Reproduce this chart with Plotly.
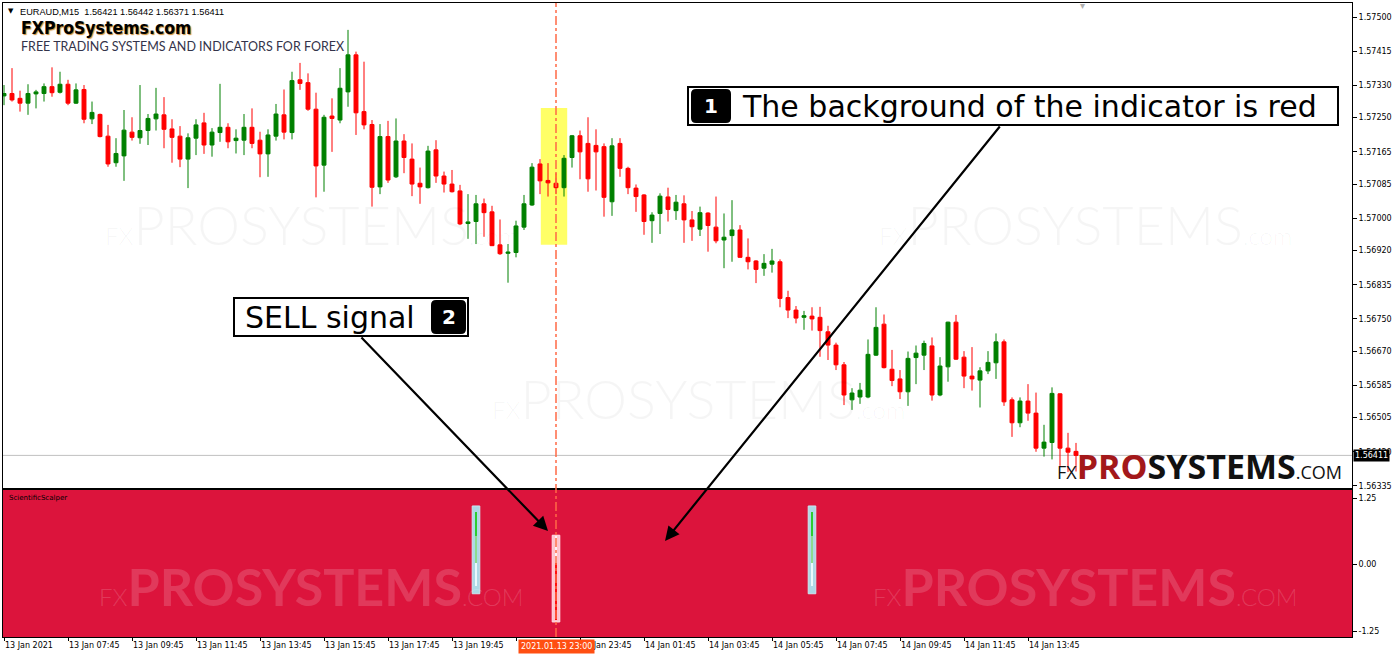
import plotly.graph_objects as go

W, H = 1400, 657

# ---------------- data (EURAUD M15, 13 Jan 05:45 -> 14 Jan 15:15) ----------------
opens = [1.57304, 1.57310, 1.57298, 1.57286, 1.57309, 1.57310, 1.57327, 1.57313, 1.57333, 1.57286,
         1.57320, 1.57247, 1.57258, 1.57204, 1.57138, 1.57155, 1.57214, 1.57200, 1.57218, 1.57247,
         1.57257, 1.57222, 1.57204, 1.57147, 1.57199, 1.57237, 1.57182, 1.57213, 1.57226, 1.57193,
         1.57194, 1.57226, 1.57194, 1.57160, 1.57204, 1.57257, 1.57213, 1.57344, 1.57337, 1.57271,
         1.57132, 1.57254, 1.57244, 1.57314, 1.57406, 1.57265, 1.57233, 1.57078, 1.57203, 1.57103,
         1.57192, 1.57147, 1.57087, 1.57076, 1.57170, 1.57105, 1.57085, 1.57068, 1.56987, 1.56992,
         1.57036, 1.57016, 1.56934, 1.56913, 1.56915, 1.56978, 1.57033, 1.57135, 1.57094, 1.57087,
         1.57076, 1.57151, 1.57205, 1.57186, 1.57181, 1.57178, 1.57041, 1.57186, 1.57124, 1.57075,
         1.57058, 1.56994, 1.57012, 1.57053, 1.57019, 1.57036, 1.56996, 1.56973, 1.57013, 1.56978,
         1.56946, 1.56957, 1.56971, 1.56903, 1.56894, 1.56876, 1.56886, 1.56892, 1.56803, 1.56772,
         1.56754, 1.56757, 1.56754, 1.56718, 1.56685, 1.56636, 1.56549, 1.56556, 1.56556, 1.56660,
         1.56737, 1.56625, 1.56601, 1.56569, 1.56654, 1.56660, 1.56683, 1.56561, 1.56631, 1.56742,
         1.56655, 1.56608, 1.56598, 1.56621, 1.56641, 1.56693, 1.56549, 1.56492, 1.56546, 1.56516,
         1.56429, 1.56443, 1.56564, 1.56429, 1.56421]
highs = [1.57331, 1.57373, 1.57317, 1.57333, 1.57319, 1.57335, 1.57375, 1.57364, 1.57344, 1.57335,
         1.57331, 1.57290, 1.57260, 1.57232, 1.57199, 1.57269, 1.57251, 1.57331, 1.57259, 1.57324,
         1.57301, 1.57246, 1.57229, 1.57211, 1.57246, 1.57262, 1.57224, 1.57334, 1.57236, 1.57221,
         1.57259, 1.57273, 1.57215, 1.57221, 1.57284, 1.57320, 1.57364, 1.57386, 1.57360, 1.57312,
         1.57257, 1.57298, 1.57373, 1.57468, 1.57414, 1.57389, 1.57244, 1.57234, 1.57242, 1.57248,
         1.57209, 1.57186, 1.57126, 1.57180, 1.57194, 1.57116, 1.57120, 1.57083, 1.57060, 1.57058,
         1.57049, 1.57031, 1.56997, 1.56936, 1.56994, 1.57058, 1.57137, 1.57147, 1.57137, 1.57112,
         1.57157, 1.57207, 1.57218, 1.57251, 1.57221, 1.57186, 1.57199, 1.57199, 1.57128, 1.57084,
         1.57060, 1.57015, 1.57062, 1.57076, 1.57058, 1.57057, 1.57018, 1.57029, 1.57015, 1.57054,
         1.57012, 1.57045, 1.56983, 1.56950, 1.56896, 1.56911, 1.56924, 1.56898, 1.56820, 1.56782,
         1.56770, 1.56779, 1.56780, 1.56733, 1.56691, 1.56643, 1.56578, 1.56591, 1.56699, 1.56779,
         1.56761, 1.56673, 1.56623, 1.56669, 1.56684, 1.56696, 1.56704, 1.56655, 1.56743, 1.56760,
         1.56670, 1.56680, 1.56630, 1.56670, 1.56714, 1.56699, 1.56555, 1.56555, 1.56588, 1.56567,
         1.56487, 1.56580, 1.56565, 1.56467, 1.56442]
lows = [1.57281, 1.57290, 1.57265, 1.57257, 1.57273, 1.57290, 1.57302, 1.57310, 1.57281, 1.57284,
        1.57236, 1.57234, 1.57201, 1.57128, 1.57128, 1.57093, 1.57193, 1.57185, 1.57182, 1.57218,
        1.57174, 1.57138, 1.57127, 1.57075, 1.57157, 1.57160, 1.57153, 1.57190, 1.57174, 1.57161,
        1.57157, 1.57174, 1.57102, 1.57103, 1.57193, 1.57196, 1.57196, 1.57319, 1.57267, 1.57052,
        1.57066, 1.57165, 1.57236, 1.57277, 1.57207, 1.57221, 1.57029, 1.57060, 1.57088, 1.57100,
        1.57112, 1.57055, 1.57036, 1.57074, 1.57088, 1.57064, 1.57064, 1.56983, 1.56949, 1.56936,
        1.56954, 1.56931, 1.56909, 1.56840, 1.56903, 1.56971, 1.57031, 1.57060, 1.57054, 1.57060,
        1.57054, 1.57126, 1.57097, 1.57066, 1.57069, 1.57004, 1.57006, 1.57103, 1.57060, 1.57016,
        1.56959, 1.56939, 1.56961, 1.56992, 1.56996, 1.56939, 1.56944, 1.56956, 1.56917, 1.56938,
        1.56876, 1.56892, 1.56902, 1.56873, 1.56839, 1.56857, 1.56865, 1.56779, 1.56752, 1.56739,
        1.56723, 1.56721, 1.56656, 1.56648, 1.56623, 1.56536, 1.56524, 1.56539, 1.56553, 1.56658,
        1.56627, 1.56583, 1.56551, 1.56534, 1.56588, 1.56623, 1.56547, 1.56558, 1.56594, 1.56648,
        1.56578, 1.56572, 1.56530, 1.56613, 1.56601, 1.56534, 1.56457, 1.56481, 1.56497, 1.56420,
        1.56408, 1.56401, 1.56385, 1.56370, 1.56371]
closes = [1.57310, 1.57294, 1.57286, 1.57310, 1.57314, 1.57327, 1.57312, 1.57333, 1.57286, 1.57319,
          1.57246, 1.57263, 1.57203, 1.57135, 1.57161, 1.57219, 1.57201, 1.57218, 1.57248, 1.57259,
          1.57221, 1.57201, 1.57147, 1.57200, 1.57232, 1.57182, 1.57214, 1.57226, 1.57190, 1.57199,
          1.57226, 1.57186, 1.57160, 1.57207, 1.57259, 1.57214, 1.57342, 1.57335, 1.57271, 1.57130,
          1.57251, 1.57248, 1.57323, 1.57406, 1.57262, 1.57232, 1.57077, 1.57203, 1.57095, 1.57192,
          1.57151, 1.57085, 1.57078, 1.57167, 1.57105, 1.57085, 1.57066, 1.56986, 1.56991, 1.57036,
          1.57014, 1.56932, 1.56912, 1.56916, 1.56981, 1.57036, 1.57127, 1.57093, 1.57088, 1.57076,
          1.57149, 1.57205, 1.57165, 1.57098, 1.57165, 1.57052, 1.57180, 1.57124, 1.57076, 1.57054,
          1.56992, 1.57008, 1.57055, 1.57022, 1.57040, 1.56996, 1.56979, 1.57014, 1.56982, 1.56944,
          1.56953, 1.56971, 1.56903, 1.56892, 1.56873, 1.56888, 1.56894, 1.56801, 1.56772, 1.56752,
          1.56758, 1.56750, 1.56721, 1.56685, 1.56636, 1.56561, 1.56566, 1.56573, 1.56662, 1.56729,
          1.56629, 1.56597, 1.56569, 1.56652, 1.56665, 1.56689, 1.56561, 1.56633, 1.56742, 1.56650,
          1.56608, 1.56601, 1.56621, 1.56642, 1.56693, 1.56544, 1.56492, 1.56546, 1.56516, 1.56429,
          1.56444, 1.56565, 1.56429, 1.56419, 1.56411]

price_ticks = [1.57500, 1.57415, 1.57330, 1.57250, 1.57165, 1.57085, 1.57000, 1.56920,
               1.56835, 1.56750, 1.56670, 1.56585, 1.56505, 1.56420, 1.56335]
price_tick_text = ["%.5f" % v for v in price_ticks]

time_tick_idx = [0, 8, 16, 24, 32, 40, 48, 56, 64, 72, 80, 88, 96, 104, 112, 120, 128]
time_tick_text = ["13 Jan 2021", "13 Jan 07:45", "13 Jan 09:45", "13 Jan 11:45", "13 Jan 13:45",
                  "13 Jan 15:45", "13 Jan 17:45", "13 Jan 19:45", "", "13 Jan 23:45",
                  "14 Jan 01:45", "14 Jan 03:45", "14 Jan 05:45", "14 Jan 07:45", "14 Jan 09:45",
                  "14 Jan 11:45", "14 Jan 13:45"]

cursor_bar = 69
cursor_label = "2021.01.13 23:00"
highlight_bars = [67.1, 70.4]
highlight_prices = [1.56934, 1.57274]

ind_ticks = [1.25, 0.0, -1.25]
ind_tick_text = ["1.25", "0.00", "-1.25"]

# ScientificScalper signals (bar index, direction, level ranges)
sig_x = [59, 69, 101]
sig_dir = ["buy", "sell", "buy"]
box_hi = [1.10, 0.55, 1.10]
box_lo = [-0.55, -1.08, -0.55]
core_hi = [0.98, 0.02, 0.98]
core_lo = [0.53, -1.04, 0.53]
mid_hi = [0.53, 0.53, 0.53]
mid_lo = [0.02, 0.02, 0.02]
tail_hi = [0.02, 0.02, 0.02]
tail_lo = [-0.41, 0.02, -0.41]

n = len(opens)
xs = list(range(n))


def px(p):
    return p / W


def py(p):
    return 1 - p / H


fig = go.Figure()

fig.add_trace(go.Candlestick(
    x=xs, open=opens, high=highs, low=lows, close=closes,
    increasing=dict(line=dict(color="#008000", width=1), fillcolor="#008000"),
    decreasing=dict(line=dict(color="#FF0000", width=1), fillcolor="#FF0000"),
    whiskerwidth=0, hoverinfo="skip", showlegend=False, xaxis="x", yaxis="y"))


def seg(hi, lo):
    return [h - l for h, l in zip(hi, lo)]


box_cols = ["#ADD8E6" if d == "buy" else "#FFC4CE" for d in sig_dir]
box_line = ["#CBE7F1" if d == "buy" else "#FFE2E8" for d in sig_dir]
core_cols = ["#2ECC2E" if d == "buy" else "#FF1010" for d in sig_dir]
mid_cols = ["#8EDB8E" if d == "buy" else "#FFF0F2" for d in sig_dir]
tail_cols = ["#EAF8FC" if d == "buy" else "rgba(0,0,0,0)" for d in sig_dir]

fig.add_trace(go.Bar(x=sig_x, y=seg(box_hi, box_lo), base=box_lo, width=0.95,
                     marker=dict(color=box_cols, line=dict(color=box_line, width=1)),
                     xaxis="x2", yaxis="y2", hoverinfo="skip", showlegend=False))
fig.add_trace(go.Bar(x=sig_x, y=seg(mid_hi, mid_lo), base=mid_lo, width=0.28,
                     marker=dict(color=mid_cols, line=dict(width=0)),
                     xaxis="x2", yaxis="y2", hoverinfo="skip", showlegend=False))
fig.add_trace(go.Bar(x=sig_x, y=seg(tail_hi, tail_lo), base=tail_lo, width=0.28,
                     marker=dict(color=tail_cols, line=dict(width=0)),
                     xaxis="x2", yaxis="y2", hoverinfo="skip", showlegend=False))
fig.add_trace(go.Bar(x=sig_x, y=seg(core_hi, core_lo), base=core_lo, width=0.28,
                     marker=dict(color=core_cols, line=dict(width=0)),
                     xaxis="x2", yaxis="y2", hoverinfo="skip", showlegend=False))

xdom = [px(3), px(1352)]
xrange_ = [-0.125, 168.5]
axis_font = dict(family="DejaVu Sans", size=8, color="black")

fig.update_layout(
    template="none",
    width=W, height=H,
    margin=dict(l=0, r=0, t=0, b=0, pad=0),
    paper_bgcolor="white", plot_bgcolor="white",
    barmode="overlay", bargap=0,
    showlegend=False,
    hovermode=False,
    xaxis=dict(domain=xdom, range=xrange_, anchor="y", showticklabels=False, ticks="",
               showgrid=False, zeroline=False, showline=True, mirror=True, linecolor="black",
               linewidth=1, rangeslider=dict(visible=False), automargin=False, fixedrange=True),
    yaxis=dict(domain=[py(488), py(3)], range=[1.56330, 1.575348], anchor="x", side="right",
               tickvals=price_ticks, ticktext=price_tick_text, ticks="outside", ticklen=4,
               tickcolor="black", tickfont=axis_font, showgrid=False, zeroline=False,
               showline=True, mirror=True, linecolor="black", linewidth=1, automargin=False),
    xaxis2=dict(domain=xdom, range=xrange_, anchor="y2", tickvals=time_tick_idx,
                ticktext=time_tick_text, ticks="outside", ticklen=3, tickcolor="black",
                ticklabelposition="outside right", tickfont=axis_font, showgrid=False,
                zeroline=False, showline=True, mirror=True, linecolor="black", linewidth=1,
                automargin=False),
    yaxis2=dict(domain=[py(637), py(490)], range=[-1.3628, 1.4004], anchor="x2", side="right",
                tickvals=ind_ticks, ticktext=ind_tick_text, ticks="outside", ticklen=4,
                tickcolor="black", tickfont=axis_font, showgrid=False, zeroline=False,
                showline=True, mirror=True, linecolor="black", linewidth=1, automargin=False),
)

shapes = []
shapes.append(dict(type="rect", xref="x2 domain", yref="y2 domain", x0=0, x1=1, y0=0, y1=1,
                   fillcolor="#DC143C", line=dict(width=0), layer="below"))
shapes.append(dict(type="rect", xref="x", yref="y", x0=highlight_bars[0], x1=highlight_bars[1],
                   y0=highlight_prices[0], y1=highlight_prices[1], fillcolor="#FFFF66",
                   line=dict(width=0), layer="below"))
shapes.append(dict(type="line", xref="x domain", yref="y", x0=0, x1=1, y0=closes[-1], y1=closes[-1],
                   line=dict(color="#C0C0C0", width=1), layer="below"))
shapes.append(dict(type="line", xref="x", yref="paper", x0=cursor_bar, x1=cursor_bar,
                   y0=py(637), y1=py(3), line=dict(color="rgb(255,105,70)", width=1.5, dash="dashdot"),
                   layer="above"))


def rrect(x0, y0, x1, y1, r):
    return (f"M {px(x0 + r)},{py(y0)} L {px(x1 - r)},{py(y0)} Q {px(x1)},{py(y0)} {px(x1)},{py(y0 + r)} "
            f"L {px(x1)},{py(y1 - r)} Q {px(x1)},{py(y1)} {px(x1 - r)},{py(y1)} "
            f"L {px(x0 + r)},{py(y1)} Q {px(x0)},{py(y1)} {px(x0)},{py(y1 - r)} "
            f"L {px(x0)},{py(y0 + r)} Q {px(x0)},{py(y0)} {px(x0 + r)},{py(y0)} Z")


shapes.append(dict(type="rect", xref="paper", yref="paper", x0=px(688), x1=px(1338), y0=py(125), y1=py(87),
                   fillcolor="white", line=dict(color="black", width=2)))
shapes.append(dict(type="path", xref="paper", yref="paper", path=rrect(691, 89, 731, 123, 5),
                   fillcolor="black", line=dict(width=0)))
shapes.append(dict(type="rect", xref="paper", yref="paper", x0=px(234), x1=px(468), y0=py(336), y1=py(298),
                   fillcolor="white", line=dict(color="black", width=2)))
shapes.append(dict(type="path", xref="paper", yref="paper", path=rrect(431, 300, 466, 334, 5),
                   fillcolor="black", line=dict(width=0)))
fig.update_layout(shapes=shapes)

ann = []
ann.append(dict(xref="paper", yref="paper", x=px(11), y=py(11), xanchor="center", yanchor="middle",
                text="▼", showarrow=False, font=dict(family="DejaVu Sans", size=7, color="black")))
ann.append(dict(xref="paper", yref="paper", x=px(18), y=py(12), xanchor="left", yanchor="middle",
                text="EURAUD,M15  %.5f %.5f %.5f %.5f" % (opens[-1], highs[-1], lows[-1], closes[-1]),
                showarrow=False, font=dict(family="Liberation Sans", size=9.2, color="black")))
ann.append(dict(xref="paper", yref="paper", x=px(19), y=py(28), xanchor="left", yanchor="middle",
                text="<b>FXProSystems.com</b>", showarrow=False,
                font=dict(family="DejaVu Sans Condensed, Liberation Sans", size=17.5, color="black",
                          shadow="1px 1px 1px rgba(190,110,0,0.8)")))
ann.append(dict(xref="paper", yref="paper", x=px(19), y=py(47), xanchor="left", yanchor="middle",
                text="FREE TRADING SYSTEMS AND INDICATORS FOR FOREX", showarrow=False,
                font=dict(family="Lato", size=12.5, color="#33334a")))
ann.append(dict(xref="paper", yref="paper", x=px(1082), y=py(5), xanchor="center", yanchor="middle",
                text="▾", showarrow=False, font=dict(family="DejaVu Sans", size=10, color="#B0B0B0")))

wm_main = ("<span style='font-size:24px'>FX</span>PROSYSTEMS"
           "<span style='font-size:24px'>.com</span>")
for cx, cy in [(311, 224), (1085, 224), (698, 398)]:
    ann.append(dict(xref="paper", yref="paper", x=px(cx), y=py(cy), xanchor="center", yanchor="middle",
                    text=wm_main, showarrow=False,
                    font=dict(family="Lato", size=54, weight=300, color="rgba(0,0,0,0.04)")))
wm_ind = ("<span style='font-size:24px;font-weight:300'>FX</span>PROSYSTEMS"
          "<span style='font-size:24px;font-weight:300'>.COM</span>")
for cx, cy in [(311, 586), (1085, 586)]:
    ann.append(dict(xref="paper", yref="paper", x=px(cx), y=py(cy), xanchor="center", yanchor="middle",
                    text=wm_ind, showarrow=False,
                    font=dict(family="Lato", size=52, weight=700, color="rgba(255,255,255,0.16)")))

ann.append(dict(xref="paper", yref="paper", x=px(1055), y=py(466), xanchor="left", yanchor="middle",
                text=("<span style='font-size:18px;font-weight:400'>FX</span>"
                      "<span style='color:#A3181A'>PRO</span>SYSTEMS"
                      "<span style='font-size:18px;font-weight:400'>.COM</span>"),
                showarrow=False, font=dict(family="Open Sans", size=34, weight=700, color="#111111")))

ann.append(dict(xref="paper", yref="paper", x=px(7), y=py(498), xanchor="left", yanchor="middle",
                text="ScientificScalper", showarrow=False,
                font=dict(family="DejaVu Sans", size=7, color="black")))

ann.append(dict(xref="paper", yref="y", x=px(1353), y=closes[-1], xanchor="left", yanchor="middle",
                text="%.5f" % closes[-1], showarrow=False, bgcolor="black", borderpad=1,
                font=dict(family="DejaVu Sans", size=8, color="white")))
ann.append(dict(xref="x2", yref="paper", x=cursor_bar, y=py(646), xanchor="center", yanchor="middle",
                text=cursor_label, showarrow=False, bgcolor="#FF4F12", borderpad=2,
                font=dict(family="DejaVu Sans", size=8, color="white")))

ann.append(dict(xref="paper", yref="paper", x=px(711), y=py(106), xanchor="center", yanchor="middle",
                text="<b>1</b>", showarrow=False, font=dict(family="DejaVu Sans", size=20, color="white")))
ann.append(dict(xref="paper", yref="paper", x=px(740), y=py(106), xanchor="left", yanchor="middle",
                text="The background of the indicator is red", showarrow=False,
                font=dict(family="DejaVu Sans", size=30, color="black")))
ann.append(dict(xref="paper", yref="paper", x=px(448.5), y=py(317), xanchor="center", yanchor="middle",
                text="<b>2</b>", showarrow=False, font=dict(family="DejaVu Sans", size=20, color="white")))
ann.append(dict(xref="paper", yref="paper", x=px(243), y=py(317), xanchor="left", yanchor="middle",
                text="SELL signal", showarrow=False,
                font=dict(family="DejaVu Sans", size=30, color="black")))

ann.append(dict(xref="paper", yref="paper", x=px(548), y=py(531), ax=360 - 548, ay=336 - 531,
                text="", showarrow=True, arrowhead=2, arrowsize=1.3, arrowwidth=2.2,
                arrowcolor="black", standoff=0))
ann.append(dict(xref="paper", yref="paper", x=px(665), y=py(541), ax=1001 - 665, ay=125 - 541,
                text="", showarrow=True, arrowhead=2, arrowsize=1.3, arrowwidth=2.2,
                arrowcolor="black", standoff=0))

fig.update_layout(annotations=ann)

fig.write_html("out.html", config={"displayModeBar": False, "staticPlot": True},
               post_script="document.body.style.margin='0px';document.body.style.padding='0px';")
